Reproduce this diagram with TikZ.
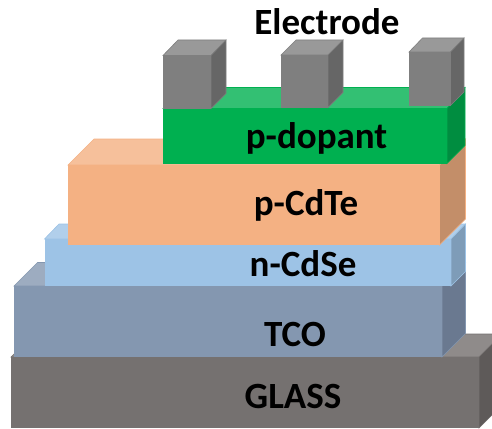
\documentclass[tikz,border=0pt]{standalone}
\usepackage{fontspec}
\setmainfont{Carlito}
\definecolor{glassFront}{HTML}{757170}
\definecolor{glassTop}{HTML}{8F8B8A}
\definecolor{glassSide}{HTML}{5E5A59}
\definecolor{tcoFront}{HTML}{8497B0}
\definecolor{tcoTop}{HTML}{9DACC0}
\definecolor{tcoSide}{HTML}{6A7990}
\definecolor{cdseFront}{HTML}{9DC3E6}
\definecolor{cdseTop}{HTML}{B1CFEB}
\definecolor{cdseSide}{HTML}{7E9CB8}
\definecolor{cdteFront}{HTML}{F4B183}
\definecolor{cdteTop}{HTML}{F6C09B}
\definecolor{cdteSide}{HTML}{C38E69}
\definecolor{dopantFront}{HTML}{00B050}
\definecolor{dopantTop}{HTML}{33C073}
\definecolor{dopantSide}{HTML}{008D40}
\definecolor{elecFront}{HTML}{7F7F7F}
\definecolor{elecTop}{HTML}{999999}
\definecolor{elecSide}{HTML}{666666}
% #1 colour prefix, #2 left, #3 right, #4 top, #5 bottom, #6 depth x, #7 depth y
\newcommand{\slab}[7]{
    \draw[fill=#1Top,draw=#1Front] (#2,#4) -- ++(#6,-#7) -- ({#3+#6},{#4-#7}) -- (#3,#4) -- cycle;
    \draw[fill=#1Side,draw=#1Front] (#3,#4) -- ++(#6,-#7) -- ({#3+#6},{#5-#6}) -- (#3,#5) -- cycle;
    \fill[#1Front] (#2,#4) rectangle (#3,#5);
}
\tikzset{
    layerlabel/.style={font=\fontsize{37}{37}\selectfont\bfseries, text=black, inner sep=0pt, anchor=base}
}
\begin{document}
\begin{tikzpicture}[x=1pt,y=-1pt,line width=0.6pt]
    \clip (0,0) rectangle (492,428);

    % couches
    \slab{glass}{11}{479}{357}{428}{23}{23}
    \slab{tco}{14}{442}{286}{357}{23.5}{23.5}
    \slab{cdse}{44.5}{451}{239}{286}{14.5}{15}
    \slab{cdte}{68}{439.5}{165}{245}{26}{26}
    \slab{dopant}{163}{447}{108.5}{163.5}{18}{21}

    % electrodes
    \slab{elec}{163}{211}{55.5}{108.5}{15}{15.5}
    \slab{elec}{281}{328}{55}{107.5}{15}{15}
    \slab{elec}{409}{450.5}{52}{105.5}{13.5}{14}

    % textes
    \node[layerlabel] (electrodeLabel) at (327,34.5) {Electrode};
    \node[layerlabel] (dopantLabel) at (316.5,148) {p-dopant};
    \node[layerlabel] (cdteLabel) at (306,215) {p-CdTe};
    \node[layerlabel] (cdseLabel) at (303,276) {n-CdSe};
    \node[layerlabel] (tcoLabel) at (295,346.5) {TCO};
    \node[layerlabel] (glassLabel) at (293,408.5) {GLASS};
\end{tikzpicture}
\end{document}
